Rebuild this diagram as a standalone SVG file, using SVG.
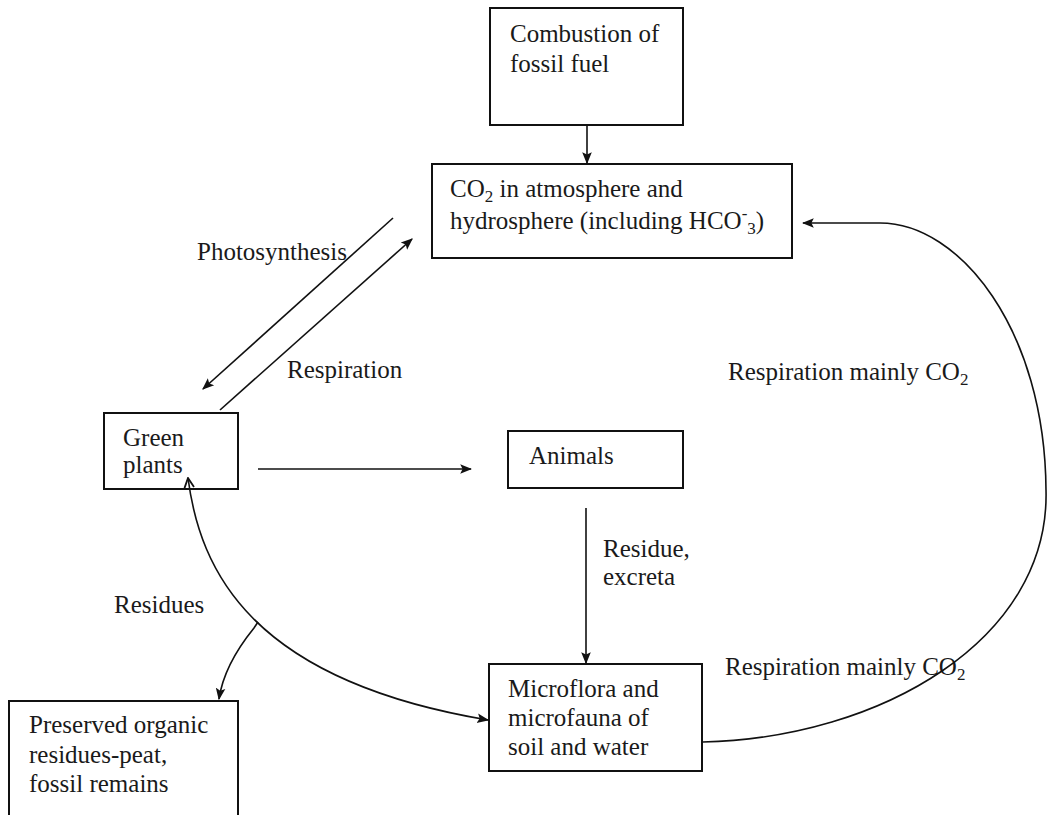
<svg xmlns="http://www.w3.org/2000/svg" width="1048" height="815" viewBox="0 0 1048 815">
<style>
text{font-family:"Liberation Serif","Times New Roman",Times,serif;font-size:25px;fill:#1a1a1a}
.sub{font-size:17px}
.box{fill:#fff;stroke:#111;stroke-width:2}
.ln{fill:none;stroke:#111;stroke-width:1.6}
</style>
<defs>
<marker id="ah" viewBox="0 0 10 10" refX="9" refY="5" markerWidth="12" markerHeight="12" markerUnits="userSpaceOnUse" orient="auto-start-reverse">
<path d="M0,1 L10,5 L0,9 L2,5 Z" fill="#111"/>
</marker>
<marker id="oh" viewBox="0 0 10 10" refX="9" refY="5" markerWidth="12" markerHeight="12" markerUnits="userSpaceOnUse" orient="auto">
<path d="M1,1 L9,5 L1,9" fill="none" stroke="#111" stroke-width="1.5"/>
</marker>
</defs>
<rect width="1048" height="815" fill="#fff"/>
<g id="combustion">
<rect class="box" x="490" y="8" width="193" height="117"/>
<text x="510" y="42">Combustion of</text>
<text x="510" y="72">fossil fuel</text>
</g>
<g id="co2">
<rect class="box" x="432" y="164" width="360" height="94"/>
<text x="450" y="197">CO<tspan class="sub" dy="5">2</tspan><tspan dy="-5"> in atmosphere and</tspan></text>
<text x="450" y="229">hydrosphere (including HCO<tspan class="sub" dy="-10">-</tspan><tspan class="sub" dy="15">3</tspan><tspan dy="-5">)</tspan></text>
</g>
<g id="green-plants">
<rect class="box" x="104" y="413" width="134" height="76"/>
<text x="123" y="446">Green</text>
<text x="123" y="473">plants</text>
</g>
<g id="animals">
<rect class="box" x="508" y="431" width="175" height="57"/>
<text x="529" y="464">Animals</text>
</g>
<g id="microflora">
<rect class="box" x="489" y="664" width="213" height="107"/>
<text x="508" y="697">Microflora and</text>
<text x="508" y="726">microfauna of</text>
<text x="508" y="755">soil and water</text>
</g>
<g id="preserved">
<rect class="box" x="9" y="701" width="229" height="120"/>
<text x="29" y="733">Preserved organic</text>
<text x="29" y="763">residues-peat,</text>
<text x="29" y="792">fossil remains</text>
</g>
<g id="labels">
<text x="197" y="260">Photosynthesis</text>
<text x="287" y="378">Respiration</text>
<text x="728" y="380">Respiration mainly CO<tspan class="sub" dy="5">2</tspan></text>
<text x="603" y="557">Residue,</text>
<text x="603" y="585">excreta</text>
<text x="114" y="613">Residues</text>
<text x="725" y="675">Respiration mainly CO<tspan class="sub" dy="5">2</tspan></text>
</g>
<g id="connectors">
<line class="ln" x1="587" y1="125" x2="587" y2="163" marker-end="url(#ah)"/>
<line class="ln" x1="393" y1="218" x2="203" y2="389" marker-end="url(#ah)"/>
<line class="ln" x1="220" y1="410" x2="412" y2="239" marker-end="url(#ah)"/>
<line class="ln" x1="258" y1="469" x2="471" y2="469" marker-end="url(#ah)"/>
<line class="ln" x1="586" y1="508" x2="586" y2="663" marker-end="url(#ah)"/>
<path class="ln" d="M488 720 C250 680 200 570 188 478" marker-start="url(#ah)" marker-end="url(#oh)"/>
<path class="ln" d="M258 622 L254 628 Q224 665 219 699" marker-end="url(#ah)"/>
<path class="ln" d="M703 742 C880 738 1050 640 1046 490 C1045 330 960 223 880 223 L803 223" marker-end="url(#ah)"/>
</g>
</svg>
